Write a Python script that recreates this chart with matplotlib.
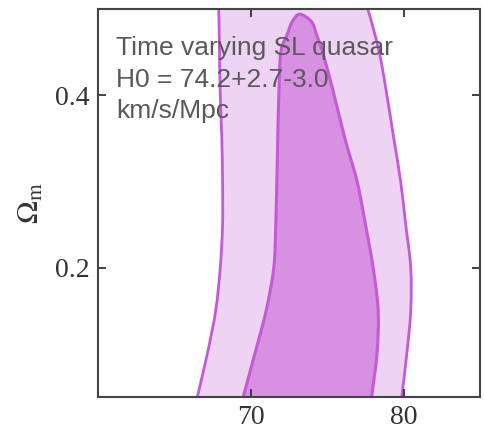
import numpy as np
import matplotlib
matplotlib.use("Agg")
import matplotlib.pyplot as plt
from matplotlib.path import Path
from matplotlib.patches import PathPatch

plt.rcParams["mathtext.fontset"] = "stix"

# Omega_m levels and H0 bounds of the 95% (outer) credible region
outer_omega = [0.05, 0.10, 0.15, 0.20, 0.25, 0.30, 0.35, 0.40, 0.45, 0.50, 0.52]
outer_left = [66.5, 67.15, 67.7, 68.0, 68.15, 68.15, 68.1, 68.0, 67.95, 67.9, 67.85]
outer_right = [79.87, 80.2, 80.46, 80.46, 80.13, 79.8, 79.35, 78.9, 78.4, 77.65, 77.2]

# Omega_m levels and H0 bounds of the 68% (inner) credible region
inner_omega = [0.05, 0.10, 0.15, 0.20, 0.25, 0.30, 0.35, 0.40, 0.45, 0.47, 0.485, 0.494]
inner_left = [69.5, 70.26, 71.0, 71.5, 71.63, 71.7, 71.76, 71.83, 71.96, 72.37, 72.7, 73.2]
inner_right = [77.9, 78.25, 78.33, 78.0, 77.5, 76.95, 76.15, 75.45, 74.7, 74.3, 73.98, 73.2]

x_ticks = [70, 80]
y_ticks = [0.2, 0.4]
annotation = "Time varying SL quasar\nH0 = 74.2+2.7-3.0\nkm/s/Mpc"

LIGHT = "#efd3f4"
DARK = "#d890e3"
EDGE = "#c45ad8"


def boundary_curve(ax, omega, left, right):
    """Open contour outline: up the left bound, over the top, down the right
    bound, as Catmull-Rom curves built in display space."""
    xs = list(left) + list(right)[::-1]
    ys = list(omega) + list(omega)[::-1]
    pts = [(xs[0], ys[0])]
    for p in zip(xs[1:], ys[1:]):
        if abs(p[0] - pts[-1][0]) > 1e-9 or abs(p[1] - pts[-1][1]) > 1e-9:
            pts.append(p)
    d = ax.transData.transform(np.array(pts))
    n = len(d)
    # reflected end points give natural end tangents
    ext = np.vstack([2 * d[0] - d[1], d, 2 * d[-1] - d[-2]])
    verts = [d[0]]
    codes = [Path.MOVETO]
    for i in range(1, n):
        p0, p1, p2, p3 = ext[i - 1], ext[i], ext[i + 1], ext[i + 2]
        verts += [p1 + (p2 - p0) / 6.0, p2 - (p3 - p1) / 6.0, p2]
        codes += [Path.CURVE4] * 3
    verts = ax.transData.inverted().transform(np.array(verts))
    return verts, codes


def draw_region(ax, omega, left, right, face, lw, z):
    verts, codes = boundary_curve(ax, omega, left, right)
    fill_path = Path(np.vstack([verts, verts[:1]]), codes + [Path.LINETO])
    ax.add_patch(PathPatch(fill_path, facecolor=face, edgecolor="none", zorder=z))
    ax.add_patch(PathPatch(Path(verts, codes), facecolor="none", edgecolor=EDGE,
                           linewidth=lw, zorder=z + 0.5, capstyle="butt"))


fig = plt.figure(figsize=(4.85, 4.29), dpi=100)
ax = fig.add_axes([0.202, 0.0746, 0.788, 0.9044])
ax.set_xlim(60, 85)
ax.set_ylim(0.05, 0.5)

draw_region(ax, outer_omega, outer_left, outer_right, LIGHT, 2.0, 1)
draw_region(ax, inner_omega, inner_left, inner_right, DARK, 2.2, 2)

ax.set_xticks(x_ticks)
ax.set_yticks(y_ticks)
ax.set_xticklabels([str(t) for t in x_ticks], family="Liberation Serif", fontsize=20, color="#333333")
ax.set_yticklabels([f"{t:.1f}" for t in y_ticks], family="Liberation Serif", fontsize=20, color="#333333")
ax.tick_params(direction="in", length=6, width=1.3, color="#333333",
               top=True, right=True, pad=6)
ax.set_axisbelow(False)
for sp in ax.spines.values():
    sp.set_color("#444444")
    sp.set_linewidth(1.5)
    sp.set_zorder(5)

ax.set_ylabel(r"$\Omega_{\rm m}$", fontsize=22, color="#333333", labelpad=7)

ax.text(0.047, 0.93, annotation, transform=ax.transAxes, ha="left", va="top",
        fontsize=19, family="Liberation Sans", color="#595959",
        linespacing=1.4, zorder=6)

fig.savefig("out.png", dpi=100)
